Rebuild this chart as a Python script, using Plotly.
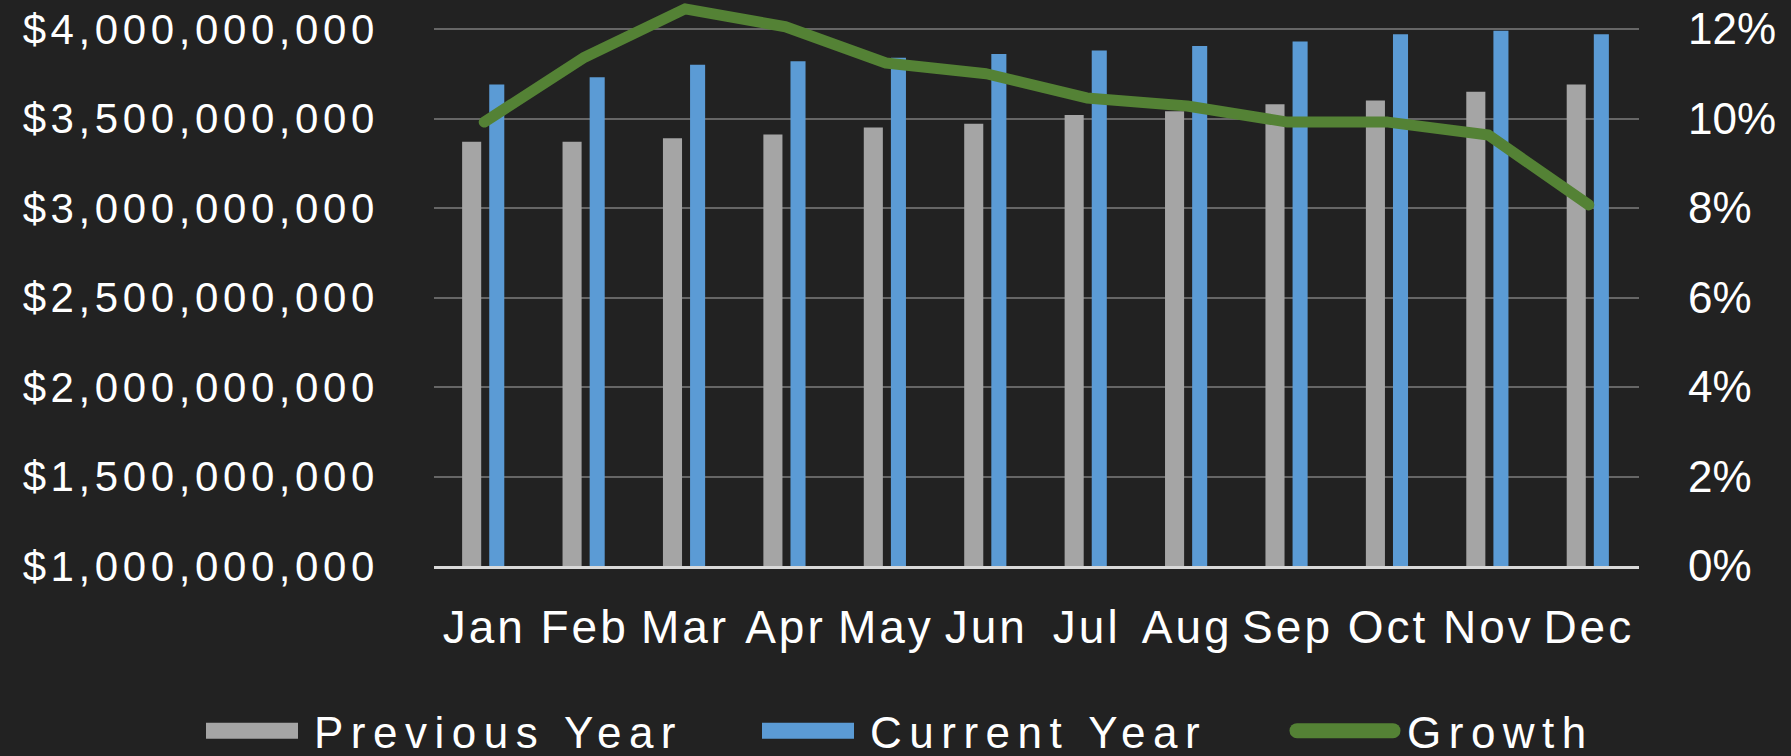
import plotly.graph_objects as go

months = ["Jan", "Feb", "Mar", "Apr", "May", "Jun", "Jul", "Aug", "Sep", "Oct", "Nov", "Dec"]
previous_year = [3.37e9, 3.37e9, 3.39e9, 3.41e9, 3.45e9, 3.47e9, 3.52e9, 3.54e9, 3.58e9, 3.60e9, 3.65e9, 3.69e9]
current_year = [3.69e9, 3.73e9, 3.80e9, 3.82e9, 3.84e9, 3.86e9, 3.88e9, 3.905e9, 3.93e9, 3.97e9, 3.99e9, 3.97e9]
growth = [0.0992, 0.1137, 0.1245, 0.1205, 0.1124, 0.1100, 0.1046, 0.1028, 0.0992, 0.0992, 0.0963, 0.0807]

left_ticks = [1e9, 1.5e9, 2e9, 2.5e9, 3e9, 3.5e9, 4e9]
right_ticks = [0, 0.02, 0.04, 0.06, 0.08, 0.10, 0.12]

FONT = "Liberation Sans"

fig = go.Figure()
fig.add_trace(go.Bar(
    x=months, y=previous_year, name="Previous Year",
    marker=dict(color="#A5A5A5", line=dict(width=0)),
    offset=-0.22, width=0.19, legend="legend",
))
fig.add_trace(go.Bar(
    x=months, y=current_year, name="Current Year",
    marker=dict(color="#5B9BD5", line=dict(width=0)),
    offset=0.05, width=0.15, legend="legend2",
))
fig.add_trace(go.Scatter(
    x=months, y=growth, name="Growth", yaxis="y2",
    mode="lines", line=dict(color="#548235", width=11),
    legend="legend3",
))

legend_common = dict(
    orientation="h", xref="container", yref="container",
    xanchor="left", y=0.033, yanchor="middle",
    font=dict(size=44, color="white", family=FONT),
    bgcolor="rgba(0,0,0,0)", itemwidth=114, entrywidthmode="pixels",
)

fig.update_layout(
    width=1791, height=756,
    margin=dict(l=434, r=152, t=0, b=190, pad=0),
    paper_bgcolor="#222222",
    plot_bgcolor="rgba(0,0,0,0)",
    barmode="overlay",
    font=dict(family=FONT, color="white"),
    xaxis=dict(
        type="category", showgrid=False, showline=True,
        linecolor="#d9d9d9", linewidth=3, ticks="",
        tickfont=dict(size=46, color="white", family=FONT),
        ticklabelstandoff=19,
    ),
    yaxis=dict(
        range=[1e9, 4e9 + 29 / 179 * 1e9],
        tickvals=left_ticks, tickformat="$,.0f",
        showgrid=True, gridcolor="#666666", gridwidth=2,
        zeroline=False, showline=False, ticks="",
        tickfont=dict(size=42, color="white", family=FONT),
        ticklabelstandoff=54,
    ),
    yaxis2=dict(
        overlaying="y", side="right",
        range=[0, 0.12 + 29 / 44.75 * 0.01],
        tickvals=right_ticks, tickformat=".0%",
        showgrid=False, zeroline=False, showline=False, ticks="",
        tickfont=dict(size=44, color="white", family=FONT),
        ticklabelstandoff=48,
    ),
    legend=dict(legend_common, x=190 / 1791, entrywidth=400),
    legend2=dict(legend_common, x=746 / 1791, entrywidth=390),
    legend3=dict(legend_common, x=1283 / 1791, entrywidth=250),
    showlegend=True,
)

post = """
document.body.style.margin = '0';
document.body.style.overflow = 'hidden';
function restyleText() {
  function sp(sel, v) {
    document.querySelectorAll(sel).forEach(function (t) { t.style.letterSpacing = v; });
  }
  sp('g.ytick text', '4.6px');
  sp('g.xtick text', '3px');
  sp('g.infolayer text', '7.5px');
  document.querySelectorAll('g.infolayer g.legendpoints path:not(.scatterpts)').forEach(function (p) {
    p.setAttribute('d', 'M46,8H-46V-8H46Z');
  });
  document.querySelectorAll('g.infolayer g.legendlines path').forEach(function (p) {
    p.setAttribute('d', 'M14,0h96');
    p.style.strokeWidth = '15px';
    p.style.strokeLinecap = 'round';
  });
  document.querySelectorAll('g.scatterlayer path.js-line').forEach(function (p) {
    p.style.strokeLinecap = 'round';
    p.style.strokeLinejoin = 'round';
  });
}
restyleText();
var gdiv = document.getElementById('{plot_id}');
if (gdiv && gdiv.on) { gdiv.on('plotly_afterplot', restyleText); }
setTimeout(restyleText, 0);
setTimeout(restyleText, 200);
"""

fig.write_html("out.html", post_script=post, config={"displayModeBar": False})
